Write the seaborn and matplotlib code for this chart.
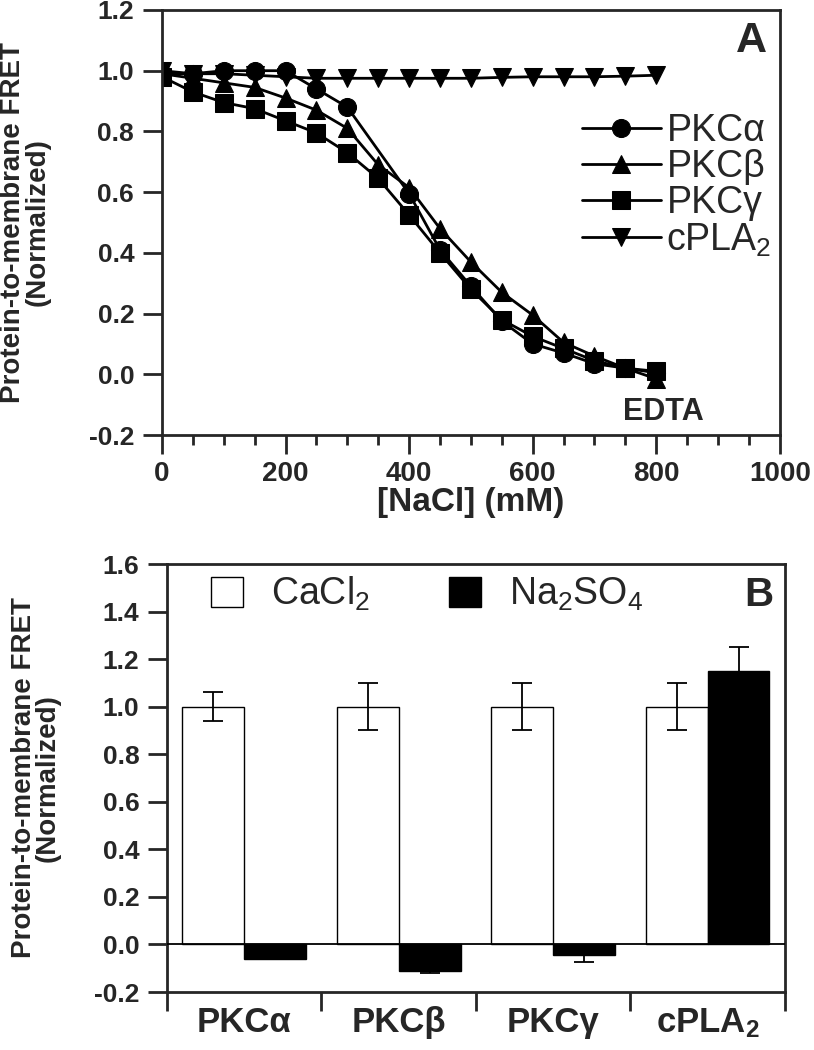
import numpy as np
import pandas as pd
import matplotlib
matplotlib.use("Agg")
import matplotlib.pyplot as plt
from matplotlib.ticker import MultipleLocator, FixedLocator
import seaborn as sns

# ---- data, panel A: FRET vs NaCl ----
nacl = [0, 50, 100, 150, 200, 250, 300, 350, 400, 450, 500, 550, 600, 650, 700, 750, 800]
pkc_alpha = [0.99, 0.99, 1.00, 1.00, 1.00, 0.94, 0.88, np.nan, 0.595, 0.41, 0.29, 0.175, 0.10, 0.07, 0.035, 0.02, 0.005]
pkc_beta = [0.99, 0.975, 0.96, 0.945, 0.91, 0.87, 0.81, 0.69, 0.615, 0.48, 0.37, 0.27, 0.195, 0.105, 0.06, 0.02, -0.015]
pkc_gamma = [0.98, 0.93, 0.895, 0.875, 0.835, 0.795, 0.73, 0.645, 0.525, 0.40, 0.28, 0.18, 0.125, 0.085, 0.045, 0.02, 0.01]
cpla2 = [1.0, 0.99, 0.99, 0.985, 0.98, 0.975, 0.975, 0.975, 0.975, 0.975, 0.975, 0.978, 0.98, 0.98, 0.98, 0.982, 0.985]

series_names = ["PKCα", "PKCβ", "PKCγ", "cPLA$_2$"]
series_markers = ["o", "^", "s", "v"]

# ---- data, panel B: CaCl2 vs Na2SO4 ----
proteins = ["PKCα", "PKCβ", "PKCγ", "cPLA$_\\mathbf{2}$"]
cacl2 = [1.0, 1.0, 1.0, 1.0]
cacl2_err = [0.06, 0.10, 0.10, 0.10]
na2so4 = [-0.06, -0.11, -0.045, 1.15]
na2so4_err = [0.003, 0.01, 0.028, 0.10]

sns.set_style("ticks")
plt.rcParams["font.family"] = ["Liberation Sans", "DejaVu Sans"]
plt.rcParams["mathtext.fontset"] = "custom"
plt.rcParams["mathtext.rm"] = "Liberation Sans"
plt.rcParams["mathtext.it"] = "Liberation Sans:italic"
plt.rcParams["mathtext.bf"] = "Liberation Sans:bold"
plt.rcParams["axes.unicode_minus"] = False
plt.rcParams["axes.linewidth"] = 2.0

fig = plt.figure(figsize=(8.14, 10.5), dpi=100)
ax_a = fig.add_axes([0.199, 0.5857, 0.759, 0.4048])
ax_b = fig.add_axes([0.2052, 0.0552, 0.759, 0.4076])

ylabel_text = "Protein-to-membrane FRET\n(Normalized)"

# ---------------- panel A ----------------
long_a = pd.DataFrame({"NaCl": nacl, "PKCα": pkc_alpha, "PKCβ": pkc_beta,
                       "PKCγ": pkc_gamma, "cPLA$_2$": cpla2})
for name, mk in zip(series_names, series_markers):
    d = long_a[["NaCl", name]].dropna()
    ms = 13 if mk != "s" else 12.5
    sns.lineplot(x=d["NaCl"], y=d[name], ax=ax_a, color="black", marker=mk,
                 markersize=ms, markeredgecolor="black", linewidth=2.0,
                 label=name, sort=False)

ax_a.set_xlim(0, 1000)
ax_a.set_ylim(-0.2, 1.2)
ax_a.xaxis.set_major_locator(MultipleLocator(200))
ax_a.xaxis.set_minor_locator(MultipleLocator(50))
ax_a.yaxis.set_major_locator(MultipleLocator(0.2))
ax_a.yaxis.set_major_formatter(matplotlib.ticker.FormatStrFormatter("%.1f"))
ax_a.tick_params(axis="both", which="major", length=14, width=2.0, direction="out",
                 labelsize=19, pad=6)
ax_a.tick_params(axis="x", which="minor", length=7, width=2.0, direction="out")
ax_a.tick_params(axis="x", which="major", labelsize=20, pad=5)
for lab in ax_a.get_xticklabels() + ax_a.get_yticklabels():
    lab.set_fontweight("bold")
ax_a.set_xlabel("[NaCl] (mM)", fontsize=24, fontweight="bold", labelpad=0)
ax_a.set_ylabel(ylabel_text, fontsize=20, fontweight="bold", linespacing=0.9)
ax_a.yaxis.set_label_coords(-0.181, 0.5)
ax_a.legend(loc="center left", bbox_to_anchor=(0.68, 0.586), frameon=False,
            fontsize=27, handlelength=2.1, handletextpad=0.15, labelspacing=0.0,
            borderpad=0, borderaxespad=0)
ax_a.text(0.979, 0.975, "A", transform=ax_a.transAxes, ha="right", va="top",
          fontsize=31, fontweight="bold")
ax_a.text(811, -0.15, "EDTA", ha="center", va="baseline", fontsize=22,
          fontweight="bold")

# ---------------- panel B ----------------
long_b = pd.DataFrame({
    "protein": proteins * 2,
    "salt": ["CaCl2"] * 4 + ["Na2SO4"] * 4,
    "value": cacl2 + na2so4,
})
sns.barplot(data=long_b, x="protein", y="value", hue="salt", order=proteins,
            hue_order=["CaCl2", "Na2SO4"],
            palette={"CaCl2": "white", "Na2SO4": "black"}, edgecolor="black",
            linewidth=1.0, errorbar=None, width=0.8, ax=ax_b)

for cont, vals, errs in zip(ax_b.containers, [cacl2, na2so4], [cacl2_err, na2so4_err]):
    xs = [bar.get_x() + bar.get_width() / 2 for bar in cont]
    ax_b.errorbar(xs, vals, yerr=errs, fmt="none", ecolor="black", elinewidth=1.3,
                  capsize=7, capthick=1.3, zorder=5)

ax_b.axhline(0, color="black", linewidth=1.3, zorder=4)
ax_b.set_xlim(-0.5, 3.5)
ax_b.set_ylim(-0.2, 1.6)
ax_b.yaxis.set_major_locator(MultipleLocator(0.2))
ax_b.yaxis.set_major_formatter(matplotlib.ticker.FormatStrFormatter("%.1f"))
ax_b.xaxis.set_minor_locator(FixedLocator([-0.5, 0.5, 1.5, 2.5, 3.5]))
ax_b.tick_params(axis="y", which="major", length=14, width=2.0, labelsize=19, pad=6)
ax_b.tick_params(axis="x", which="major", length=0, labelsize=25, pad=10)
ax_b.tick_params(axis="x", which="minor", length=14, width=2.0, direction="out")
for lab in ax_b.get_xticklabels() + ax_b.get_yticklabels():
    lab.set_fontweight("bold")
ax_b.set_xlabel("")
ax_b.set_ylabel(ylabel_text, fontsize=20, fontweight="bold", linespacing=0.9)
ax_b.yaxis.set_label_coords(-0.172, 0.5)

handles, _ = ax_b.get_legend_handles_labels()
ax_b.legend(handles, ["CaCl$_2$", "Na$_2$SO$_4$"], ncol=2, loc="upper left",
            bbox_to_anchor=(0.071, 0.975), frameon=False, fontsize=27,
            handlelength=0.85, handleheight=0.85, handletextpad=0.75,
            columnspacing=2.1, borderpad=0, borderaxespad=0)
ax_b.text(0.981, 0.972, "B", transform=ax_b.transAxes, ha="right", va="top",
          fontsize=29, fontweight="bold")

fig.savefig("out.png", dpi=100)
